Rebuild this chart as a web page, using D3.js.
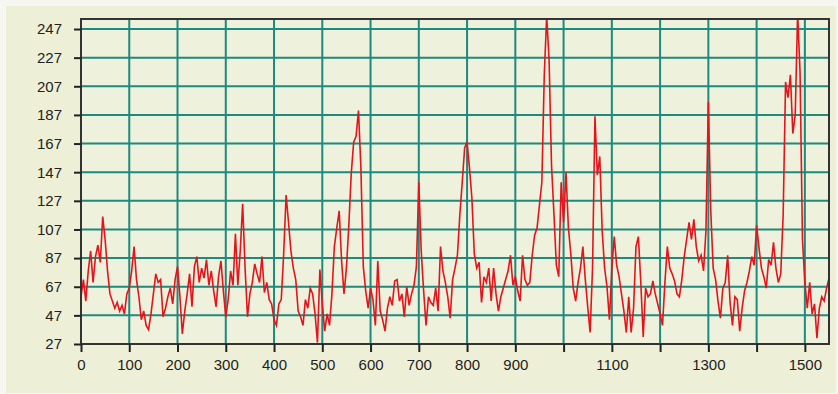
<!DOCTYPE html>
<html>
<head>
<meta charset="utf-8">
<script src="https://cdn.jsdelivr.net/npm/d3@7"></script>
<style>
  html, body { margin: 0; padding: 0; background: #f7f7f1; }
  svg { display: block; }
</style>
</head>
<body>
<svg id="chart" width="838" height="394"></svg>
<script>
// sample positions, every 5 units from 0 to 1550
const xValues = d3.range(0, 1551, 5);

// signal, one value per x position
const signal = [
  // 0 - 95
  60, 72, 57, 78, 92, 70, 88, 96, 84, 116, 100, 78, 62, 57, 52, 56, 50, 54, 48, 62,
  // 100 - 195
  66, 78, 95, 72, 60, 44, 50, 40, 37, 48, 62, 76, 70, 72, 46, 52, 60, 66, 55, 72,
  // 200 - 295
  81, 60, 34, 50, 62, 76, 53, 81, 88, 70, 80, 73, 86, 68, 78, 64, 53, 74, 85, 64,
  // 300 - 395
  46, 58, 78, 68, 104, 68, 92, 125, 80, 46, 62, 70, 83, 76, 70, 88, 63, 70, 58, 55,
  // 400 - 495
  44, 40, 55, 58, 90, 131, 112, 92, 80, 72, 50, 46, 40, 58, 52, 66, 62, 48, 28, 79,
  // 500 - 595
  55, 36, 48, 40, 62, 95, 108, 120, 85, 62, 80, 110, 146, 168, 172, 190, 150, 81, 64, 52,
  // 600 - 695
  66, 58, 40, 85, 50, 44, 36, 52, 60, 54, 71, 72, 57, 62, 46, 67, 54, 62, 68, 81,
  // 700 - 795
  140, 92, 64, 40, 60, 56, 54, 66, 50, 95, 78, 70, 60, 45, 72, 80, 89, 117, 140, 164,
  // 800 - 895
  168, 150, 129, 90, 80, 84, 56, 74, 70, 80, 57, 80, 62, 50, 60, 66, 72, 78, 89, 68,
  // 900 - 995
  74, 64, 57, 89, 72, 68, 70, 89, 103, 108, 124, 140, 215, 256, 225, 152, 118, 82, 74, 140,
  // 1000 - 1095
  112, 147, 108, 90, 66, 57, 70, 80, 95, 72, 53, 35, 80, 186, 145, 158, 106, 80, 67, 44,
  // 1100 - 1195
  80, 102, 82, 74, 62, 50, 35, 60, 35, 52, 95, 102, 70, 32, 66, 60, 62, 71, 62, 55,
  // 1200 - 1295
  48, 40, 70, 95, 80, 76, 71, 62, 60, 72, 88, 100, 112, 100, 114, 95, 85, 89, 78, 106,
  // 1300 - 1395
  196, 120, 80, 72, 57, 45, 66, 70, 89, 56, 40, 60, 58, 36, 52, 64, 70, 78, 88, 82,
  // 1400 - 1495
  110, 94, 80, 74, 66, 86, 82, 98, 80, 70, 76, 117, 210, 199, 215, 174, 187, 258, 217, 100,
  // 1500 - 1550
  70, 52, 70, 48, 55, 31, 52, 60, 57, 66, 73
];

const yTicks = [27, 47, 67, 87, 107, 127, 147, 167, 187, 207, 227, 247];
const xTicks = [0, 100, 200, 300, 400, 500, 600, 700, 800, 900, 1000, 1100, 1200, 1300, 1400, 1500];
const xLabels = [0, 100, 200, 300, 400, 500, 600, 700, 800, 900, 1100, 1300, 1500];

const svg = d3.select("#chart");

const plot = { left: 81, right: 829, top: 19, bottom: 344 };

const x = d3.scaleLinear().domain([0, 1550]).range([plot.left, plot.right]);
const y = d3.scaleLinear().domain([27, 254]).range([plot.bottom, plot.top]);

// panel behind everything
svg.append("rect")
  .attr("x", 6).attr("y", 6)
  .attr("width", 830).attr("height", 387)
  .attr("fill", "#edf0d7");

svg.append("rect")
  .attr("x", plot.left).attr("y", plot.top)
  .attr("width", plot.right - plot.left).attr("height", plot.bottom - plot.top)
  .attr("fill", "#eef1dc");

// grid
const grid = svg.append("g").attr("stroke", "#1d8a7e").attr("stroke-width", 2);
grid.selectAll(".vg").data(xTicks).enter().append("line")
  .attr("x1", d => x(d)).attr("x2", d => x(d))
  .attr("y1", plot.top).attr("y2", plot.bottom);
grid.selectAll(".hg").data(yTicks).enter().append("line")
  .attr("x1", plot.left).attr("x2", plot.right)
  .attr("y1", d => y(d)).attr("y2", d => y(d));

// red trace
svg.append("clipPath").attr("id", "clip")
  .append("rect")
  .attr("x", plot.left).attr("y", plot.top)
  .attr("width", plot.right - plot.left).attr("height", plot.bottom - plot.top);

const line = d3.line()
  .x((d, i) => x(xValues[i]))
  .y(d => y(d));

svg.append("path")
  .datum(signal)
  .attr("clip-path", "url(#clip)")
  .attr("fill", "none")
  .attr("stroke", "#e5141b")
  .attr("stroke-width", 1.6)
  .attr("stroke-linejoin", "miter")
  .attr("d", line);

// frame
svg.append("rect")
  .attr("x", plot.left).attr("y", plot.top)
  .attr("width", plot.right - plot.left).attr("height", plot.bottom - plot.top)
  .attr("fill", "none")
  .attr("stroke", "#333")
  .attr("stroke-width", 2);

// axes
const yAxis = svg.append("g")
  .attr("transform", `translate(${plot.left},0)`)
  .call(d3.axisLeft(y).tickValues(yTicks).tickSize(7).tickPadding(12).tickFormat(d3.format("d")));

const xAxis = svg.append("g")
  .attr("transform", `translate(0,${plot.bottom})`)
  .call(d3.axisBottom(x).tickValues(xTicks).tickSize(8).tickPadding(7)
    .tickFormat(d => xLabels.includes(d) ? d : ""));

[yAxis, xAxis].forEach(a => {
  a.select(".domain").remove();
  a.selectAll(".tick line").attr("stroke", "#222").attr("stroke-width", 2);
  a.selectAll(".tick text")
    .attr("fill", "#222")
    .style("font-family", "'Liberation Sans', Arial, sans-serif")
    .style("font-size", "15px");
});
</script>
</body>
</html>
